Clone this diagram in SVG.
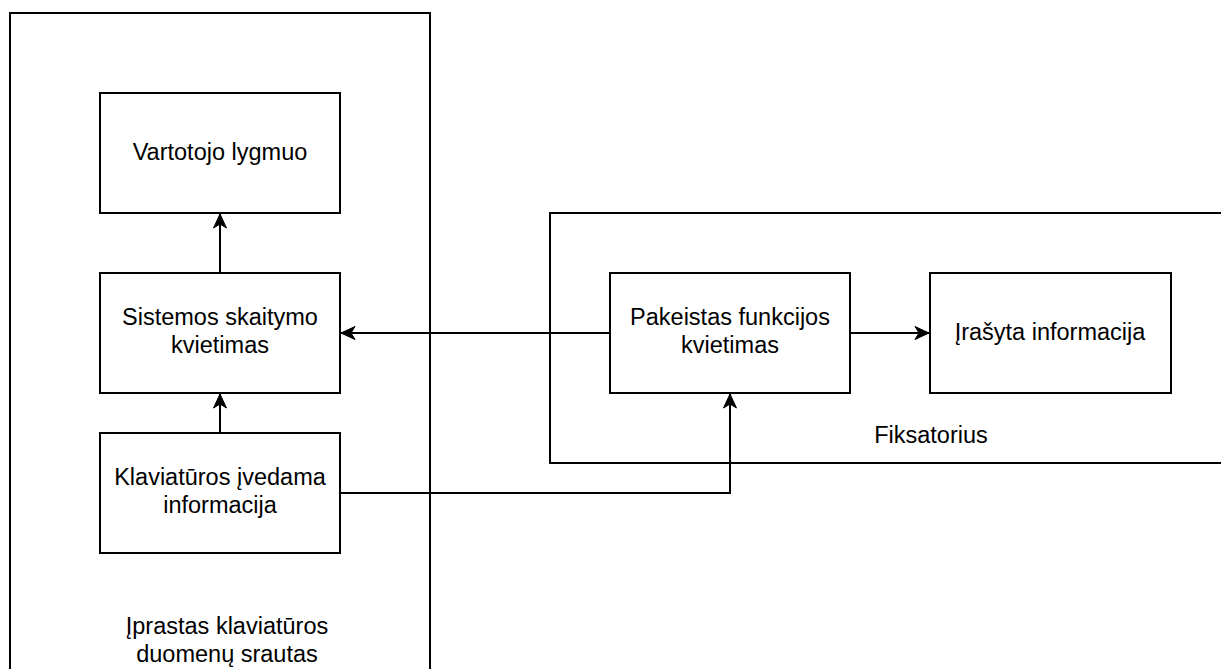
<svg xmlns="http://www.w3.org/2000/svg" width="1221" height="669" viewBox="0 0 1221 669">
<defs>
<style>
.box{fill:#fff;stroke:#000;stroke-width:2}
.cont{fill:none;stroke:#000;stroke-width:2}
.edge{fill:none;stroke:#000;stroke-width:2}
text{font-family:"Liberation Sans",Arial,sans-serif;font-size:23.5px;fill:#000;text-anchor:middle}
</style>
<marker id="arr" markerUnits="userSpaceOnUse" markerWidth="16" markerHeight="14" viewBox="-15 -7 16 14" refX="0" refY="0" orient="auto">
<path d="M0,0 L-14,-6.5 L-10,0 L-14,6.5 Z" fill="#000" stroke="#000" stroke-width="1"/>
</marker>
</defs>
<rect width="1221" height="669" fill="#fff"/>
<g id="container-iprastas">
<rect class="cont" x="10" y="13" width="420" height="700"/>
<text x="227" y="634">Įprastas klaviatūros</text>
<text x="227" y="662">duomenų srautas</text>
</g>
<g id="container-fiksatorius">
<rect class="cont" x="550" y="213" width="700" height="250"/>
<text x="931" y="443">Fiksatorius</text>
</g>
<g id="connectors">
<path class="edge" d="M220,273 L220,214" marker-end="url(#arr)"/>
<path class="edge" d="M220,433 L220,394" marker-end="url(#arr)"/>
<path class="edge" d="M610,333 L341,333" marker-end="url(#arr)"/>
<path class="edge" d="M850,333 L929,333" marker-end="url(#arr)"/>
<path class="edge" d="M340,493 L730,493 L730,394" marker-end="url(#arr)"/>
</g>
<g id="node-vartotojo">
<rect class="box" x="100" y="93" width="240" height="120"/>
<text x="220" y="160">Vartotojo lygmuo</text>
</g>
<g id="node-sistemos">
<rect class="box" x="100" y="273" width="240" height="120"/>
<text x="220" y="325">Sistemos skaitymo</text>
<text x="220" y="353">kvietimas</text>
</g>
<g id="node-klaviaturos">
<rect class="box" x="100" y="433" width="240" height="120"/>
<text x="220" y="485">Klaviatūros įvedama</text>
<text x="220" y="513">informacija</text>
</g>
<g id="node-pakeistas">
<rect class="box" x="610" y="273" width="240" height="120"/>
<text x="730" y="325">Pakeistas funkcijos</text>
<text x="730" y="353">kvietimas</text>
</g>
<g id="node-irasyta">
<rect class="box" x="930" y="273" width="241" height="120"/>
<text x="1050" y="340">Įrašyta informacija</text>
</g>
</svg>
